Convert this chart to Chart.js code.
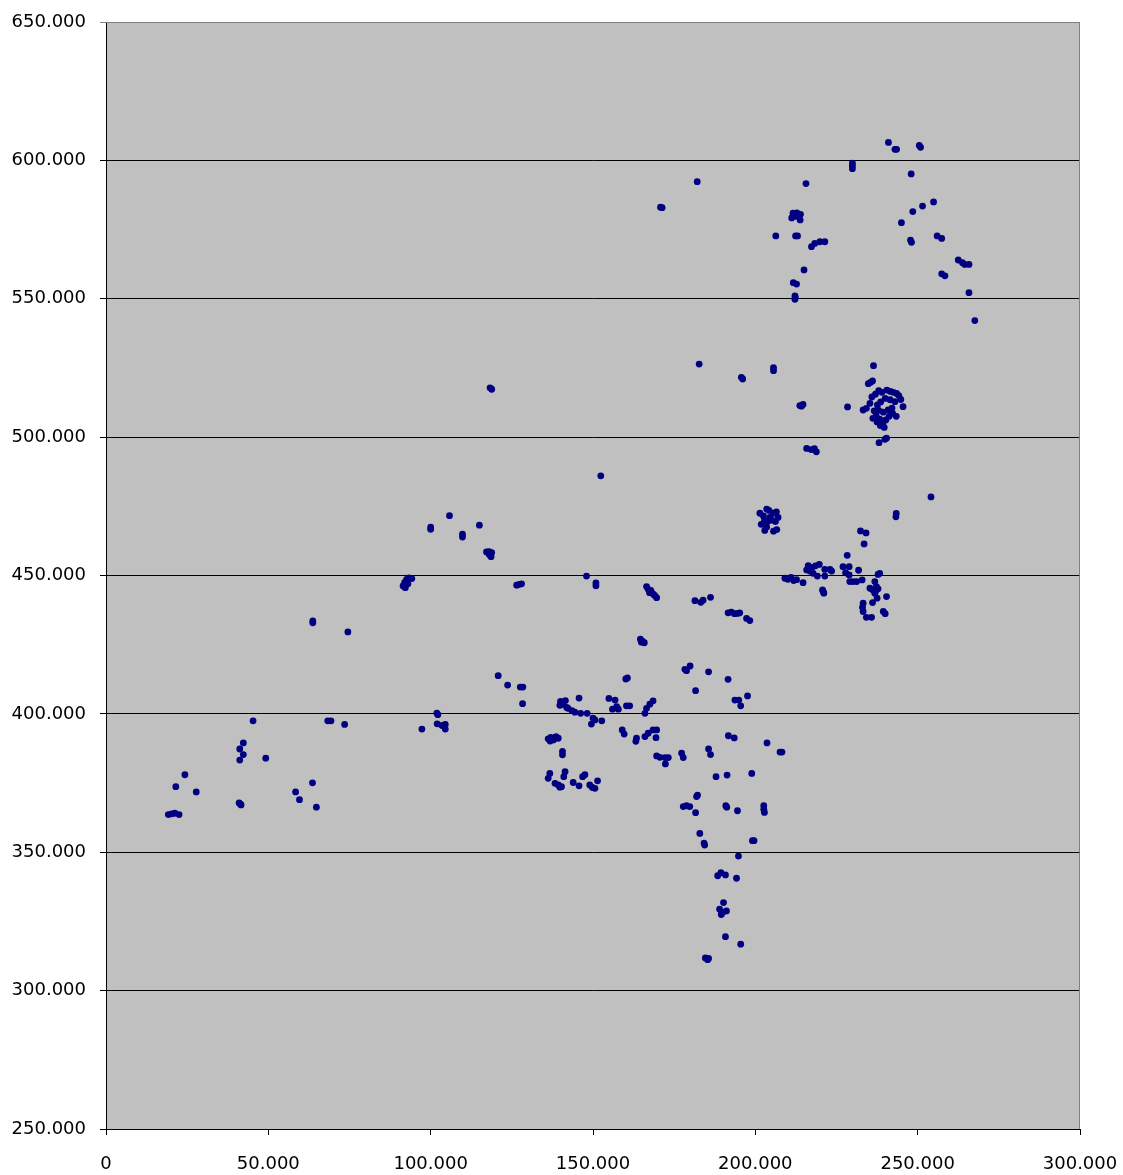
<!DOCTYPE html>
<html>
<head>
<meta charset="utf-8">
<script src="https://cdn.jsdelivr.net/npm/chart.js@4.4.0/dist/chart.umd.min.js"></script>
<style>
    body { margin: 0; background: #ffffff; }
    canvas { display: block; }
</style>
</head>
<body>
<canvas id="scatterChart" width="1123" height="1175"></canvas>
<script>
// 座標點 [x, y]，依區域分組
const westPoints = [
    [19200, 363600], [20200, 363900], [21200, 364100], [22500, 363600],
    [21500, 373700], [24300, 378000], [27800, 371800],
    [41400, 367400], [41000, 367800], [41600, 367100],
    [41200, 383300], [42300, 385300], [41200, 387300], [42300, 389500], [49200, 384000],
    [45300, 397500], [58400, 371800], [59600, 369000], [63600, 375100], [64800, 366300],
    [68300, 397500], [69300, 397500], [73500, 396200],
    [63700, 433600], [63700, 432900], [74500, 429600]
];

const midWestPoints = [
    [91500, 446200], [92000, 447500], [92600, 448600], [93300, 449100], [94200, 448900], [92200, 445600], [93000, 447000],
    [100000, 467500], [100000, 466700], [105800, 471600], [109800, 464900], [109800, 463900], [115000, 468200],
    [117200, 458500], [118000, 458600], [118800, 458300], [118100, 457500], [118600, 456800],
    [118300, 517800], [118800, 517300],
    [126500, 446500], [127300, 446800], [128000, 447000],
    [148000, 449800], [150900, 447300], [150900, 446300],
    [152400, 486000],
    [97300, 394500], [101900, 400300], [102200, 399700], [102000, 396400], [103500, 395800], [104500, 396200], [104500, 394500],
    [120800, 413800], [123700, 410400], [127600, 409700], [128400, 409700], [128300, 403700]
];

const centrePoints = [
    [136200, 391000], [137000, 391500], [137800, 390600], [138600, 391800], [139300, 391200], [136800, 390200],
    [140600, 386400], [140600, 385200],
    [136700, 378500], [136200, 376700], [139300, 374300], [140300, 373700], [138300, 374900], [141400, 379100], [141000, 377300], [139800, 373500],
    [143900, 375200], [145700, 374000], [146800, 377300], [147500, 378000], [149000, 374300], [150600, 373100], [151400, 375800], [149800, 373400],
    [140000, 404500], [140800, 403400], [141500, 404800], [139800, 403100], [141900, 402300],
    [145700, 405700], [142300, 402000], [143500, 401200], [144400, 400600],
    [146200, 400200], [148200, 400200], [150600, 397800], [152700, 397500], [149500, 396300], [150000, 398500],
    [154900, 405600], [156800, 405000], [157300, 402600], [156000, 401700], [157800, 401700],
    [160300, 402900], [161300, 402900],
    [160100, 412600], [160600, 413000],
    [164600, 427000], [165200, 426300], [165800, 425700], [164900, 425900],
    [166500, 402000], [167500, 403500], [168500, 404700], [166000, 400200],
    [159000, 394200], [159600, 392700], [163400, 391200], [163200, 390100],
    [166000, 391800], [167000, 393000], [168500, 394200], [169600, 394200], [169400, 391400],
    [169600, 384800], [170600, 384300], [172200, 384200], [173200, 384200], [172300, 381900],
    [177300, 385800], [177800, 384200],
    [185600, 387300], [186200, 385300],
    [187900, 377300], [191300, 377900], [198900, 378500]
];

const southPoints = [
    [181900, 370100], [182200, 370600],
    [177800, 366500], [178800, 366800], [179800, 366500], [181600, 364300],
    [190900, 366800], [191200, 366300], [194500, 365000],
    [202600, 366800], [202600, 365500], [202800, 364400],
    [182900, 356800], [184200, 353300], [184400, 352600],
    [199100, 354200], [199600, 354200],
    [194800, 348600],
    [188400, 341500], [189400, 342600], [190800, 341800], [194200, 340600],
    [190200, 331800], [189000, 329400], [190000, 328300], [191100, 328800], [189500, 327500],
    [190800, 319500], [195500, 316800],
    [184600, 311800], [185300, 311200], [185600, 311600]
];

const eastCentrePoints = [
    [178300, 416100], [178800, 415600], [179900, 417300], [185600, 415200], [181600, 408400], [191600, 412500],
    [191700, 392100], [193500, 391300],
    [193700, 405000], [194900, 405000], [195500, 402900], [197600, 406500],
    [166500, 446000], [167000, 445000], [167800, 444600], [168400, 443400], [169000, 442800], [169600, 442000], [167400, 443800],
    [181400, 440900], [183200, 440300], [183900, 441100], [186200, 442100],
    [191600, 436500], [192600, 436800], [193600, 436200], [194500, 436300], [195200, 436500],
    [197300, 434500], [198300, 433700],
    [203600, 389500], [207600, 386200], [208200, 386200]
];

const eastPoints = [
    [201400, 472500], [202500, 471500], [203500, 474000], [204200, 473500], [205500, 472500], [206500, 473000],
    [207000, 471000], [206200, 469500], [205000, 470000], [203800, 469500], [202800, 469800], [203500, 467500],
    [201800, 468500], [202900, 466300], [205600, 466000], [206600, 466600], [204500, 471000],
    [243300, 471200], [243400, 472400],
    [232400, 466100], [234100, 465400], [233500, 461400], [228300, 457300],
    [209100, 449000], [210000, 448600], [211000, 449300], [211800, 448200], [212700, 448500], [214700, 447400],
    [215800, 452000], [216300, 453600], [216800, 451600], [217400, 452800], [217800, 450800], [218500, 453500],
    [219700, 454000], [221400, 452200], [223000, 452200], [223500, 451600],
    [219100, 449800], [221400, 449800],
    [227000, 453200], [228900, 453200], [227800, 451000], [228900, 450200], [231800, 451900],
    [229100, 447800], [230100, 447800], [231200, 447800], [232900, 448400],
    [237800, 450400], [238300, 450800],
    [236800, 447800], [237300, 446000],
    [235300, 445400], [236200, 444800], [237000, 444200], [237800, 445200], [236800, 443600],
    [240400, 442400], [237500, 441800], [236100, 440200],
    [233200, 440000], [233000, 438500], [233200, 437000],
    [234200, 434900], [235800, 434900],
    [239400, 437000], [240000, 436200],
    [220700, 444800], [220900, 444200], [221100, 443600],
    [254100, 478400]
];

const northEastPoints = [
    [182700, 526400], [195700, 521600], [196100, 521000], [205600, 525100], [205600, 524000],
    [213700, 511400], [214700, 511800], [214200, 511200],
    [215800, 495900], [217200, 495500], [218200, 495800], [218800, 494700],
    [236400, 525800], [234800, 519300], [235500, 519800], [236100, 520300],
    [228400, 510900], [233200, 509800], [234200, 510400], [235300, 512200],
    [235900, 514500], [237000, 515500], [238000, 516800], [239000, 516200], [240500, 517000], [241600, 516500],
    [242500, 516200], [243500, 515800], [244200, 515000], [244800, 513600], [245500, 511000], [243000, 512800],
    [241500, 513500], [240000, 514000], [238600, 512700], [237600, 511600], [236600, 509500], [237200, 507800],
    [238300, 506500], [239300, 505200], [240200, 506200], [241200, 507500], [242300, 508600], [243400, 507500],
    [238500, 504200], [239700, 503500], [237500, 505500], [236200, 506800], [240900, 509800], [239400, 509000],
    [238000, 509700], [242100, 510500],
    [238100, 498000], [239900, 499200], [240400, 499600]
];

const northPoints = [
    [241000, 606500], [243000, 604000], [243500, 604000], [250500, 605400], [250900, 604700],
    [229900, 599000], [229900, 598000], [229900, 597000],
    [248000, 595100], [182100, 592300], [215600, 591600],
    [170800, 583100], [171300, 582900],
    [254900, 585000], [251500, 583500], [248500, 581500], [245000, 577500],
    [211600, 580900], [212800, 581000], [213900, 580500], [211200, 579200], [212500, 579800], [213800, 578500],
    [206300, 572700], [212400, 572700], [213000, 572700],
    [217300, 568800], [218300, 570000], [219900, 570600], [221400, 570600],
    [256000, 572700], [257400, 571800], [247800, 571200], [248100, 570400],
    [215000, 560400],
    [262500, 564000], [263800, 563000], [264500, 562400], [265800, 562400],
    [257400, 559000], [258400, 558300],
    [211700, 555800], [212700, 555300],
    [212200, 551000], [212200, 549800], [212300, 550500],
    [265800, 552200], [267600, 542100]
];

// 軸範圍與刻度
const xTicks = [0, 50000, 100000, 150000, 200000, 250000, 300000];
const yTicks = [250000, 300000, 350000, 400000, 450000, 500000, 550000, 600000, 650000];

const allPoints = [].concat(westPoints, midWestPoints, centrePoints, southPoints,
    eastCentrePoints, eastPoints, northEastPoints, northPoints);

// 千分位用點號，例如 650.000
function formatTick(value) {
    if (value === 0) return '0';
    return String(value).replace(/\B(?=(\d{3})+(?!\d))/g, '.');
}

// 繪圖區灰色背景與邊框
const plotAreaPlugin = {
    id: 'plotArea',
    beforeDraw(chart) {
        const { ctx, chartArea } = chart;
        ctx.save();
        ctx.fillStyle = '#c0c0c0';
        ctx.fillRect(chartArea.left, chartArea.top, chartArea.right - chartArea.left, chartArea.bottom - chartArea.top);
        ctx.restore();
    },
    afterDraw(chart) {
        const { ctx, chartArea } = chart;
        ctx.save();
        ctx.strokeStyle = '#808080';
        ctx.lineWidth = 1;
        ctx.beginPath();
        ctx.moveTo(chartArea.left, chartArea.top + 0.5);
        ctx.lineTo(chartArea.right - 0.5, chartArea.top + 0.5);
        ctx.lineTo(chartArea.right - 0.5, chartArea.bottom);
        ctx.stroke();
        ctx.restore();
    }
};

const tickFont = { family: 'DejaVu Sans', size: 18 };

const ctx = document.getElementById('scatterChart').getContext('2d');
new Chart(ctx, {
    type: 'scatter',
    data: {
        datasets: [{
            data: allPoints.map(p => ({ x: p[0], y: p[1] })),
            backgroundColor: '#000080',
            borderColor: '#000080',
            borderWidth: 0,
            pointRadius: 3.4,
            pointHoverRadius: 3.4
        }]
    },
    options: {
        responsive: false,
        animation: false,
        devicePixelRatio: 1,
        layout: {
            padding: { top: 22, right: 43, left: 0, bottom: 0 }
        },
        plugins: {
            legend: { display: false },
            tooltip: { enabled: false }
        },
        scales: {
            x: {
                type: 'linear',
                min: xTicks[0],
                max: xTicks[xTicks.length - 1],
                afterBuildTicks(scale) {
                    scale.ticks = xTicks.map(v => ({ value: v }));
                },
                afterFit(scale) {
                    scale.height = 46;
                    scale.paddingLeft = 0;
                    scale.paddingRight = 0;
                },
                ticks: {
                    color: '#000000',
                    font: tickFont,
                    padding: 19,
                    maxRotation: 0,
                    autoSkip: false,
                    callback: formatTick
                },
                grid: {
                    drawOnChartArea: false,
                    color: '#000000',
                    tickLength: 6
                },
                border: { color: '#000000', width: 1 }
            },
            y: {
                type: 'linear',
                min: yTicks[0],
                max: yTicks[yTicks.length - 1],
                afterBuildTicks(scale) {
                    scale.ticks = yTicks.map(v => ({ value: v }));
                },
                afterFit(scale) {
                    scale.width = 106;
                    scale.paddingTop = 0;
                    scale.paddingBottom = 0;
                },
                ticks: {
                    color: '#000000',
                    font: tickFont,
                    padding: 14,
                    autoSkip: false,
                    callback: formatTick
                },
                grid: {
                    color: function(context) {
                        return context.tick && context.tick.value === 650000 ? '#808080' : '#000000';
                    },
                    lineWidth: 1,
                    tickLength: 6
                },
                border: { color: '#000000', width: 1 }
            }
        }
    },
    plugins: [plotAreaPlugin]
});
</script>
</body>
</html>
